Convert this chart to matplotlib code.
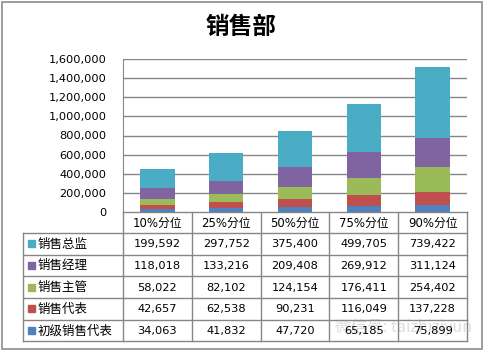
import numpy as np
import matplotlib
matplotlib.use("Agg")
import matplotlib.pyplot as plt
from matplotlib.patches import Rectangle

plt.rcParams['font.family'] = ['DejaVu Sans', 'Noto Sans CJK SC']

# data
categories = ['10%分位', '25%分位', '50%分位', '75%分位', '90%分位']
series_names = ['初级销售代表', '销售代表', '销售主管', '销售经理', '销售总监']
junior_rep = [34063, 41832, 47720, 65185, 75899]
sales_rep = [42657, 62538, 90231, 116049, 137228]
supervisor = [58022, 82102, 124154, 176411, 254402]
manager = [118018, 133216, 209408, 269912, 311124]
director = [199592, 297752, 375400, 499705, 739422]
colors = ['#4F81BD', '#C0504D', '#9BBB59', '#8064A2', '#4BACC6']
yticks = [0, 200000, 400000, 600000, 800000, 1000000, 1200000, 1400000, 1600000]

values = [junior_rep, sales_rep, supervisor, manager, director]

W, H = 483, 351
fig = plt.figure(figsize=(W / 100, H / 100), dpi=100)

# overlay en pixels pour le cadre et le tableau
ov = fig.add_axes([0, 0, 1, 1])
ov.set_xlim(0, W)
ov.set_ylim(H, 0)
ov.axis('off')

gc = '#868686'
ov.add_patch(Rectangle((1.5, 1.5), W - 3, H - 4, fill=False, ec='#8c8c8c', lw=1.2))
ov.text(241, 27, '销售部', ha='center', va='center', fontsize=17, fontweight='bold',
        family=['Noto Sans CJK SC'])

# zone du graphique
L, R, T, B = 123, 467, 59, 212
ax = fig.add_axes([L / W, 1 - B / H, (R - L) / W, (B - T) / H])
x = np.arange(len(categories))
bottom = np.zeros(len(categories))
for vals, c in zip(values, colors):
    ax.bar(x, vals, 0.5, bottom=bottom, color=c, zorder=3)
    bottom += np.array(vals)
ax.set_xlim(-0.5, len(categories) - 0.5)
ax.set_ylim(0, 1600000)
ax.set_yticks(yticks)
ax.set_yticklabels([f'{v:,}' for v in yticks], fontsize=8.2)
ax.set_xticks([])
ax.grid(axis='y', color=gc, lw=1, zorder=0)
for s in ['top', 'right', 'bottom']:
    ax.spines[s].set_visible(False)
ax.spines['left'].set_color(gc)
ax.tick_params(axis='y', length=0, pad=12)

# tableau de données
col_x = np.linspace(L, R, len(categories) + 1)
TL = 23
row_y = [212, 233, 254.5, 276, 298, 319.5, 341]
ov.plot([L, R], [row_y[0], row_y[0]], color=gc, lw=1)
for y in row_y[1:]:
    ov.plot([TL, R], [y, y], color=gc, lw=1)
for cx in col_x:
    ov.plot([cx, cx], [row_y[0], row_y[-1]], color=gc, lw=1)
ov.plot([TL, TL], [row_y[1], row_y[-1]], color=gc, lw=1)

for i, cat in enumerate(categories):
    ov.text((col_x[i] + col_x[i + 1]) / 2, (row_y[0] + row_y[1]) / 2 + 0.5, cat,
            ha='center', va='center', fontsize=8.5)

order = list(range(len(series_names)))[::-1]
for r, k in enumerate(order):
    yc = (row_y[r + 1] + row_y[r + 2]) / 2
    ov.add_patch(Rectangle((28, yc - 3.5), 7, 7, color=colors[k]))
    ov.text(38, yc + 0.5, series_names[k], ha='left', va='center', fontsize=9,
            family=['Noto Sans CJK SC'])
    for i in range(len(categories)):
        ov.text((col_x[i] + col_x[i + 1]) / 2, yc + 0.5, f'{values[k][i]:,}',
                ha='center', va='center', fontsize=8.2, zorder=3)

# filigrane
ov.text(335, 327, '微信号: taizhiziyun', ha='left', va='center', fontsize=11.5,
        color='#d4d4d4', alpha=0.8, zorder=1, family=['Noto Sans CJK SC', 'DejaVu Sans'])

fig.savefig('out.png', dpi=100)
